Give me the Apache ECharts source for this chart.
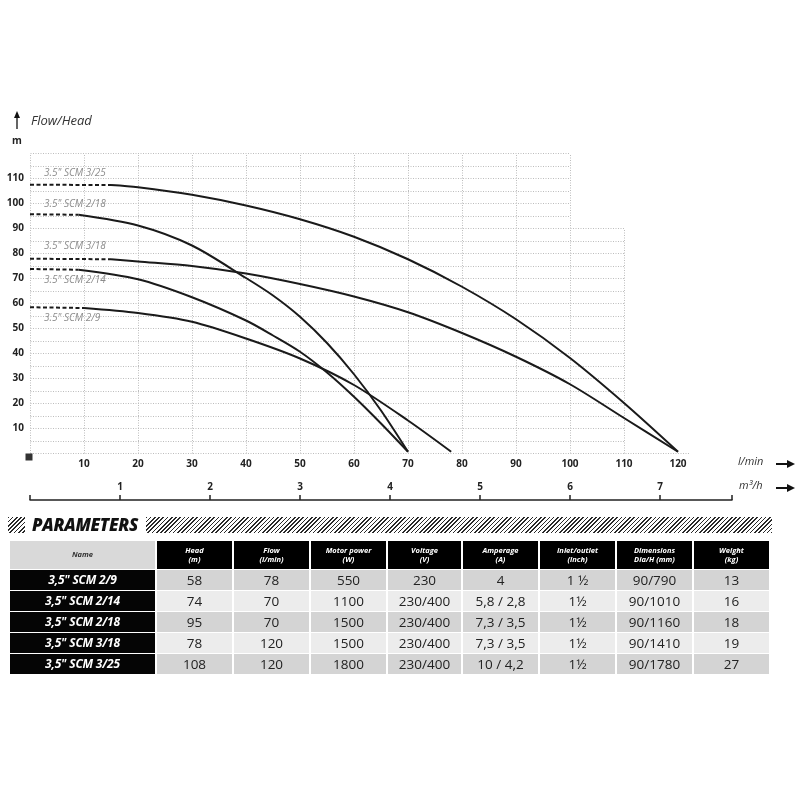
<!DOCTYPE html>
<html>
<head>
<meta charset="utf-8">
<script src="https://cdn.jsdelivr.net/npm/echarts@6/dist/echarts.min.js"></script>
<style>
  html, body { margin: 0; padding: 0; background: #fff; }
  #chart { position: absolute; left: 0; top: 0; width: 800px; height: 800px; }
  #params { position: absolute; left: 0; top: 0; width: 800px; height: 800px; pointer-events: none; font-family: "Open Sans", "Noto Sans", sans-serif; }
  .hatch { position: absolute; height: 16px; background: repeating-linear-gradient(135deg, #2a2a2a 0 1.1px, #fff 1.1px 3px); }
  .ptitle { position: absolute; left: 32px; top: 513px; font-size: 17px; font-weight: 800; font-style: italic; color: #111; letter-spacing: -0.3px; line-height: 24px; }
  table { position: absolute; left: 8px; top: 539.5px; border-collapse: separate; border-spacing: 2px 1.5px; table-layout: fixed; }
  th { height: 28px; padding: 0; font-size: 7.5px; font-style: italic; font-weight: 700; line-height: 9px; background: #000; color: #fff; text-align: center; }
  th.nm { background: #d9d9d9; color: #333; }
  td { height: 20px; padding: 0; font-size: 13.5px; color: #222; text-align: center; line-height: 20px; }
  td.nm { background: #050505; color: #fff; font-weight: 700; font-style: italic; font-size: 12px; letter-spacing: -0.2px; }
  tr.odd td { background: #d4d4d4; }
  tr.even td { background: #ececec; }
  tr td.nm { background: #050505; }
</style>
</head>
<body>
<div id="chart"></div>
<div id="params">
  <div class="hatch" style="left:8px;top:517px;width:17px;"></div>
  <div class="ptitle">PARAMETERS</div>
  <div class="hatch" style="left:146px;top:517px;width:626px;"></div>
  <table id="tbl"></table>
</div>
<script>
// ---- curve data (flow l/min, head m); first point = shut-off (dashed part) ----
const q29  = [0, 10, 20, 30, 40, 50, 60, 70, 78];
const h29  = [58.3, 58, 56, 52.5, 45.8, 37.8, 27.2, 13, 0.5];
const q214 = [0, 9, 20, 30, 40, 45, 50, 55, 60, 65, 70];
const h214 = [73.6, 73.3, 69.5, 62.3, 53, 47, 40.5, 32.2, 22.5, 11.8, 0.5];
const q218 = [0, 9, 20, 30, 40, 45, 50, 55, 60, 65, 70];
const h218 = [95.5, 95.3, 91, 83, 70, 63, 54.5, 44, 31.5, 17, 0.5];
const q318 = [0, 15, 20, 30, 40, 50, 60, 70, 80, 90, 100, 110, 120];
const h318 = [77.7, 77.5, 76.6, 74.8, 71.8, 67.6, 62.6, 56.3, 48, 38.5, 27.5, 14, 0.5];
const q325 = [0, 15, 20, 30, 40, 50, 60, 70, 80, 90, 100, 110, 120];
const h325 = [107.3, 107.2, 106.3, 103.3, 99, 93.5, 86.5, 77.5, 66.5, 53.5, 38, 20, 0.5];

const curveNames = ['3.5" SCM 2/9', '3.5" SCM 2/14', '3.5" SCM 2/18', '3.5" SCM 3/18', '3.5" SCM 3/25'];

// axis ticks
const flowTicks = [10, 20, 30, 40, 50, 60, 70, 80, 90, 100, 110, 120];
const headTicks = [10, 20, 30, 40, 50, 60, 70, 80, 90, 100, 110];
const m3hTicks = [1, 2, 3, 4, 5, 6, 7];

// ---- table data ----
const tblHeaders = ['Name', 'Head<br>(m)', 'Flow<br>(l/min)', 'Motor power<br>(W)', 'Voltage<br>(V)', 'Amperage<br>(A)', 'Inlet/outlet<br>(inch)', 'Dimensions<br>Dia/H (mm)', 'Weight<br>(kg)'];
const tblNames   = ['3,5" SCM 2/9', '3,5" SCM 2/14', '3,5" SCM 2/18', '3,5" SCM 3/18', '3,5" SCM 3/25'];
const tblHead    = [58, 74, 95, 78, 108];
const tblFlow    = [78, 70, 70, 120, 120];
const tblPower   = [550, 1100, 1500, 1500, 1800];
const tblVoltage = ['230', '230/400', '230/400', '230/400', '230/400'];
const tblAmp     = ['4', '5,8 / 2,8', '7,3 / 3,5', '7,3 / 3,5', '10 / 4,2'];
const tblInlet   = ['1 ½', '1½', '1½', '1½', '1½'];
const tblDim     = ['90/790', '90/1010', '90/1160', '90/1410', '90/1780'];
const tblWeight  = [13, 16, 18, 19, 27];

function buildTable() {
  const t = document.getElementById('tbl');
  const widths = [145, 75, 75, 75, 73, 75, 75, 75, 75];
  let html = '<colgroup>' + widths.map(w => `<col style="width:${w}px">`).join('') + '</colgroup>';
  html += '<tr>' + tblHeaders.map((h, i) => `<th class="${i === 0 ? 'nm' : ''}">${h}</th>`).join('') + '</tr>';
  tblNames.forEach((n, i) => {
    const cells = [tblHead[i], tblFlow[i], tblPower[i], tblVoltage[i], tblAmp[i], tblInlet[i], tblDim[i], tblWeight[i]];
    html += `<tr class="${i % 2 === 0 ? 'odd' : 'even'}"><td class="nm">${n}</td>` +
      cells.map(c => `<td>${c}</td>`).join('') + '</tr>';
  });
  t.innerHTML = html;
}
buildTable();

// ---- dotted grid (stepped outline like the datasheet) ----
function gridSegments() {
  const segs = [];
  for (let h = 0; h <= 120; h += 5) {
    const xEnd = h === 0 ? 122 : (h <= 90 ? 110 : 100);
    segs.push([0, h, xEnd, h]);
  }
  for (let q = 0; q <= 110; q += 10) {
    segs.push([q, 0, q, q <= 100 ? 120 : 90]);
  }
  return segs;
}

const labelOffsets = [[9, 11], [9, 11], [9, -10], [9, -13], [9, -12]];
const curves = [[q29, h29], [q214, h214], [q218, h218], [q318, h318], [q325, h325]];

const series = [{
  type: 'custom',
  silent: true,
  z: 1,
  data: gridSegments(),
  encode: { x: [0, 2], y: [1, 3] },
  renderItem: (params, api) => {
    const p1 = api.coord([api.value(0), api.value(1)]);
    const p2 = api.coord([api.value(2), api.value(3)]);
    return {
      type: 'line',
      shape: { x1: Math.round(p1[0]) + 0.5, y1: Math.round(p1[1]) + 0.5, x2: Math.round(p2[0]) + 0.5, y2: Math.round(p2[1]) + 0.5 },
      style: { stroke: '#bdbdbd', lineWidth: 1, lineDash: [1, 1.5] }
    };
  }
}];

curves.forEach(([q, h], i) => {
  // dashed shut-off part
  series.push({
    type: 'line',
    z: 3,
    silent: true,
    showSymbol: true,
    symbolSize: 0,
    lineStyle: { color: '#1a1a1a', width: 2, type: [4, 2.5] },
    data: [
      { value: [q[0], h[0]], label: {
          show: true, position: 'right', offset: labelOffsets[i],
          formatter: curveNames[i], color: '#8c8c8c', fontSize: 10, fontStyle: 'italic',
          fontFamily: 'Open Sans'
      } },
      [q[1], h[1]]
    ]
  });
  // solid part
  series.push({
    type: 'line',
    z: 3,
    silent: true,
    showSymbol: false,
    smooth: 0.3,
    lineStyle: { color: '#1a1a1a', width: 2 },
    data: q.slice(1).map((v, k) => [v, h[k + 1]])
  });
});

// origin marker
series.push({
  type: 'scatter', silent: true, z: 4,
  symbol: 'rect', symbolSize: 7, symbolOffset: [-1, 4],
  itemStyle: { color: '#000' },
  data: [[0, 0]]
});

const boldLabel = { fontFamily: 'Open Sans', fontWeight: 'bold', fontSize: 10, color: '#222' };

const chart = echarts.init(document.getElementById('chart'));
chart.setOption({
  animation: false,
  grid: { left: 30, top: 153, width: 702, height: 300 },
  xAxis: [{
    type: 'value', min: 0, max: 130, interval: 10,
    axisLine: { show: false }, axisTick: { show: false }, splitLine: { show: false },
    axisLabel: Object.assign({ margin: 6, formatter: v => flowTicks.includes(v) ? String(v) : '' }, boldLabel)
  }, {
    type: 'value', min: 0, max: 130 * 0.06, interval: 1, position: 'bottom', offset: 47,
    axisLine: { show: true, lineStyle: { color: '#222', width: 1.5 } },
    axisTick: { show: true, inside: true, length: 5, lineStyle: { color: '#222', width: 1.5 } },
    splitLine: { show: false },
    axisLabel: Object.assign({ inside: true, margin: 8, formatter: v => m3hTicks.includes(v) ? String(v) : '' }, boldLabel)
  }],
  yAxis: {
    type: 'value', min: 0, max: 120, interval: 10,
    axisLine: { show: false }, axisTick: { show: false }, splitLine: { show: false },
    axisLabel: Object.assign({ margin: 6, formatter: v => headTicks.includes(v) ? String(v) : '' }, boldLabel)
  },
  graphic: [
    { type: 'line', shape: { x1: 17, y1: 117, x2: 17, y2: 129 }, style: { stroke: '#111', lineWidth: 1.3 } },
    { type: 'polygon', shape: { points: [[14, 118], [17, 111], [20, 118]] }, style: { fill: '#111' } },
    { type: 'text', left: 31, top: 115, style: { text: 'Flow/Head', font: 'italic 13px "Open Sans"', fill: '#333' } },
    { type: 'text', left: 12, top: 136, style: { text: 'm', font: 'bold 10px "Open Sans"', fill: '#222' } },
    { type: 'text', left: 738, top: 456, style: { text: 'l/min', font: 'italic 11px "Open Sans"', fill: '#333' } },
    { type: 'line', shape: { x1: 776, y1: 464, x2: 790, y2: 464 }, style: { stroke: '#111', lineWidth: 2 } },
    { type: 'polygon', shape: { points: [[787, 460], [795, 464], [787, 468]] }, style: { fill: '#111' } },
    { type: 'text', left: 739, top: 480, style: { text: 'm³/h', font: 'italic 11px "Open Sans"', fill: '#333' } },
    { type: 'line', shape: { x1: 776, y1: 488, x2: 790, y2: 488 }, style: { stroke: '#111', lineWidth: 2 } },
    { type: 'polygon', shape: { points: [[787, 484], [795, 488], [787, 492]] }, style: { fill: '#111' } }
  ],
  series: series
});
</script>
</body>
</html>
